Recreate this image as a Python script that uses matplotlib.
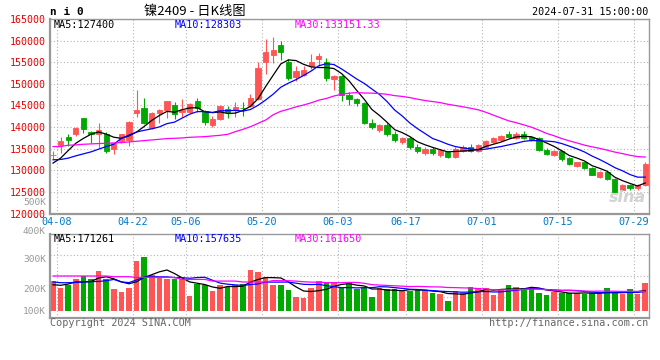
import numpy as np
import pandas as pd
import matplotlib
matplotlib.use('Agg')
import matplotlib.pyplot as plt

# ---- datos ----
dates = ['04-08', '04-09', '04-10', '04-11', '04-12', '04-15', '04-16', '04-17', '04-18', '04-19',
         '04-22', '04-23', '04-24', '04-25', '04-26', '04-29', '04-30',
         '05-06', '05-07', '05-08', '05-09', '05-10', '05-13', '05-14', '05-15', '05-16', '05-17',
         '05-20', '05-21', '05-22', '05-23', '05-24', '05-27', '05-28', '05-29', '05-30', '05-31',
         '06-03', '06-04', '06-05', '06-06', '06-07', '06-11', '06-12', '06-13', '06-14',
         '06-17', '06-18', '06-19', '06-20', '06-21', '06-24', '06-25', '06-26', '06-27', '06-28',
         '07-01', '07-02', '07-03', '07-04', '07-05', '07-08', '07-09', '07-10', '07-11', '07-12',
         '07-15', '07-16', '07-17', '07-18', '07-19', '07-22', '07-23', '07-24', '07-25', '07-26',
         '07-29', '07-30', '07-31']

opens = [133500, 135870, 137710, 138480, 142080, 138930, 138400, 138320, 134880, 136870,
         137020, 143300, 144370, 139780, 143150, 143910, 145060, 143450, 143530, 145980,
         143680, 140470, 141770, 144140, 143910, 144450, 144910, 146600, 154940, 156710,
         159080, 155020, 151570, 151960, 154020, 155710, 155020, 151110, 151730, 147360,
         146440, 145500, 141000, 139300, 140500, 138500, 136500, 137500, 135500, 134000,
         135000, 133500, 134200, 133000, 134500, 135500, 134500, 135500, 136500, 137000,
         138500, 137500, 138500, 137800, 137500, 134800, 133500, 134500, 132800, 131000,
         131800, 130500, 128500, 129500, 128000, 125500, 126500, 125800, 126500]
highs = [134500, 137630, 138400, 140080, 142080, 139090, 140930, 138860, 136410, 138480,
         141460, 148510, 146830, 143530, 144220, 146060, 145750, 146600, 145680, 146750,
         143910, 142540, 145060, 144830, 145830, 145830, 147590, 155020, 160380, 160770,
         160000, 155790, 154020, 154020, 156940, 157090, 156020, 151960, 151960, 148130,
         146800, 145800, 141800, 140800, 140900, 139000, 137800, 137800, 136000, 135300,
         135300, 135000, 134500, 135300, 135800, 136000, 136000, 137000, 137800, 138200,
         139000, 138800, 139000, 138000, 137600, 135200, 134800, 134800, 133000, 132000,
         132000, 130800, 129800, 129800, 128200, 126800, 126800, 126800, 131800]
lows = [132580, 133960, 135640, 137940, 138550, 136250, 135100, 134110, 133880, 136250,
        135640, 142380, 140700, 139550, 141000, 142000, 141920, 142230, 143150, 143380,
        140470, 140010, 141620, 142000, 142380, 142540, 144680, 146370, 152340, 154790,
        155400, 150960, 150660, 151730, 153340, 154020, 150660, 148660, 146060, 145060,
        144800, 140800, 139500, 138800, 138000, 136500, 136000, 135000, 134000, 133500,
        133600, 133000, 132800, 132800, 134200, 134300, 134300, 135200, 136200, 136800,
        137500, 137300, 137200, 136700, 134500, 133500, 133200, 132200, 131200, 130800,
        130300, 128800, 128200, 127800, 124800, 125200, 125500, 125500, 126300]
closes = [133600, 136790, 137020, 139860, 139620, 138400, 139400, 134570, 136250, 138320,
          141230, 143840, 141000, 143300, 143990, 145980, 142920, 143910, 145290, 144300,
          141230, 141920, 144830, 143450, 144680, 144300, 146670, 153640, 157470, 157930,
          157320, 151340, 152880, 153110, 154940, 156550, 151340, 151730, 147360, 146440,
          145500, 141000, 140000, 140500, 138500, 137000, 137500, 135500, 134500, 135000,
          134000, 134800, 133000, 135000, 135500, 134500, 135800, 136800, 137500, 138000,
          137800, 138500, 137500, 137000, 134800, 133800, 134500, 132500, 131500, 131800,
          130500, 129000, 129500, 128000, 125000, 126500, 125800, 126500, 131500]

# volumen (miles de lotes)
volumes = [254, 195, 218, 271, 294, 274, 340, 274, 186, 161, 195, 424, 458, 302, 282, 274,
           274, 274, 130, 226, 218, 172, 218, 206, 223, 232, 347, 328, 288, 220, 218, 178,
           121, 113, 198, 254, 234, 246, 195, 234, 189, 198, 119, 195, 184, 189, 172, 169,
           181, 172, 153, 147, 88, 169, 153, 206, 195, 195, 138, 181, 223, 203, 195, 203,
           153, 138, 161, 153, 153, 153, 147, 153, 144, 195, 153, 144, 189, 144, 237]

# medias moviles al inicio (antes del periodo visible)
ma5_head = [131660, 132810, 134570, 136250]
ma10_head = [132420, 132500, 132810, 133340, 133800, 134260, 134880, 135490, 136020]
ma30_head = [135490, 135490, 135800, 135870, 136020, 136100, 136180, 136250, 136330, 136410,
             136560, 136710, 136870, 137020, 137170, 137330, 137400, 137480, 137630, 137710,
             137790, 137940, 138100, 138320, 138930, 139470, 140080, 140850, 141620]
vma5_head = [223, 218, 229, 246]
vma10_head = [246, 240, 240, 243, 246, 249, 251, 257, 268]
vma30_head = [297, 297, 297, 297, 297, 297, 297, 297, 291, 291, 291, 285, 285, 285, 285,
              285, 285, 268, 268, 268, 268, 254, 254, 254, 254, 246, 246, 246, 246]

xtick_labels = ['04-08', '04-22', '05-06', '05-20', '06-03', '06-17', '07-01', '07-15', '07-29']
price_ticks = list(range(120000, 165001, 5000))
vol_labels = ['500K', '400K', '300K', '200K', '100K']

ma_texts = ['MA5:127400', 'MA10:128303', 'MA30:133151.33']
vma_texts = ['MA5:171261', 'MA10:157635', 'MA30:161650']


def moving_avg(vals, n, head):
    s = pd.Series(vals, dtype=float).rolling(n).mean().to_numpy()
    s[:len(head)] = head
    return s


RED = '#FF5555'
GREEN = '#00A800'
GRID = '#b4b4b4'
MONO = 'DejaVu Sans Mono'

o = np.array(opens)
h = np.array(highs)
l = np.array(lows)
c = np.array(closes)
v = np.array(volumes)
x = np.arange(len(dates))
up = c >= o
cols = np.where(up, RED, GREEN)

fig = plt.figure(figsize=(6.6, 3.6), dpi=100)


def px_axes(left, top, right, bottom):
    return fig.add_axes([left / 660, 1 - bottom / 360, (right - left) / 660, (bottom - top) / 360])


def style(ax):
    ax.set_xlim(-0.4, 78.5)
    for sp in ax.spines.values():
        sp.set_color('#999999')
        sp.set_linewidth(1)
    ax.spines['left'].set_linewidth(1.6)
    ax.spines['bottom'].set_linewidth(1.6)
    xt = [dates.index(d) + 0.5 for d in xtick_labels]
    ax.set_xticks(xt)
    ax.grid(True, color=GRID, linestyle=(0, (1, 2)), linewidth=0.8)
    ax.set_axisbelow(True)
    ax.tick_params(length=0)


# ---- precio ----
ax = px_axes(50, 19, 649, 213.5)
style(ax)
ax.set_ylim(120000, 165000)
ax.set_yticks(price_ticks)
ax.set_yticklabels([str(t) for t in price_ticks], color='#E80000', fontsize=7.2, family=MONO)
ax.tick_params(axis='y', pad=3)
ax.set_xticklabels(xtick_labels, color='#0078C8', fontsize=7.3, family=MONO)
ax.tick_params(axis='x', pad=2.5)

ax.vlines(x, l, h, colors=cols, linewidth=0.8, zorder=2)
body_lo = np.minimum(o, c)
body_h = np.maximum(np.abs(c - o), 1)
ax.bar(x, body_h, bottom=body_lo, width=0.7, color=cols, edgecolor=cols, linewidth=0.6, zorder=3)

ax.plot(x, moving_avg(c, 5, ma5_head), color='black', lw=0.9, zorder=4)
ax.plot(x, moving_avg(c, 10, ma10_head), color='#0000FF', lw=0.9, zorder=4)
ax.plot(x, moving_avg(c, 30, ma30_head), color='#FF00FF', lw=0.9, zorder=4)

for xp, txt, col in zip([54, 175, 295], ma_texts, ['black', '#0000FF', '#FF00FF']):
    fig.text(xp / 660, 1 - 24.5 / 360, txt, color=col, fontsize=7.3, family=MONO, va='center')

fig.text(627 / 660, 1 - 197 / 360, 'sina', color='#d2d2d2', fontsize=11.5, fontstyle='italic',
         fontweight='bold', ha='center', va='center')

# ---- volumen ----
axv = px_axes(50, 234, 649, 318)
style(axv)
axv.set_ylim(-59, 653)
yl = axv.get_ylim()
axv.set_yticks(np.linspace(yl[0], yl[1], 5)[1:-1])
axv.set_yticklabels([])
axv.set_xticklabels([])
axv.bar(x, v, width=0.74, color=cols, zorder=2)
axv.plot(x, moving_avg(v, 5, vma5_head), color='black', lw=0.9, zorder=4)
axv.plot(x, moving_avg(v, 10, vma10_head), color='#0000FF', lw=0.9, zorder=4)
axv.plot(x, moving_avg(v, 30, vma30_head), color='#FF00FF', lw=0.9, zorder=4)
for yf, lab in zip([202.5, 231, 260, 290, 311], vol_labels):
    fig.text(46 / 660, 1 - yf / 360, lab, color='#999999', fontsize=6.8, family=MONO,
             ha='right', va='center')
for xp, txt, col in zip([54, 175, 295], vma_texts, ['black', '#0000FF', '#FF00FF']):
    fig.text(xp / 660, 1 - 238.5 / 360, txt, color=col, fontsize=7.3, family=MONO, va='center')

# ---- cabecera y pie ----
fig.text(50 / 660, 1 - 12 / 360, 'n i 0', fontsize=8, family=MONO, fontweight='bold', va='center')
fig.text(195 / 660, 1 - 11 / 360, '镍2409 - 日K线图', fontsize=9.5,
         family=['Noto Sans CJK SC', 'DejaVu Sans'], ha='center', va='center')
fig.text(648 / 660, 1 - 12 / 360, '2024-07-31 15:00:00', fontsize=7.3, family=MONO,
         ha='right', va='center')
fig.text(50 / 660, 1 - 323.5 / 360, 'Copyright 2024 SINA.COM', fontsize=7.3, family=MONO,
         color='#666666', va='center')
fig.text(648 / 660, 1 - 323.5 / 360, 'http://finance.sina.com.cn', fontsize=7.3, family=MONO,
         color='#666666', ha='right', va='center')

fig.savefig('out.png', dpi=100)
